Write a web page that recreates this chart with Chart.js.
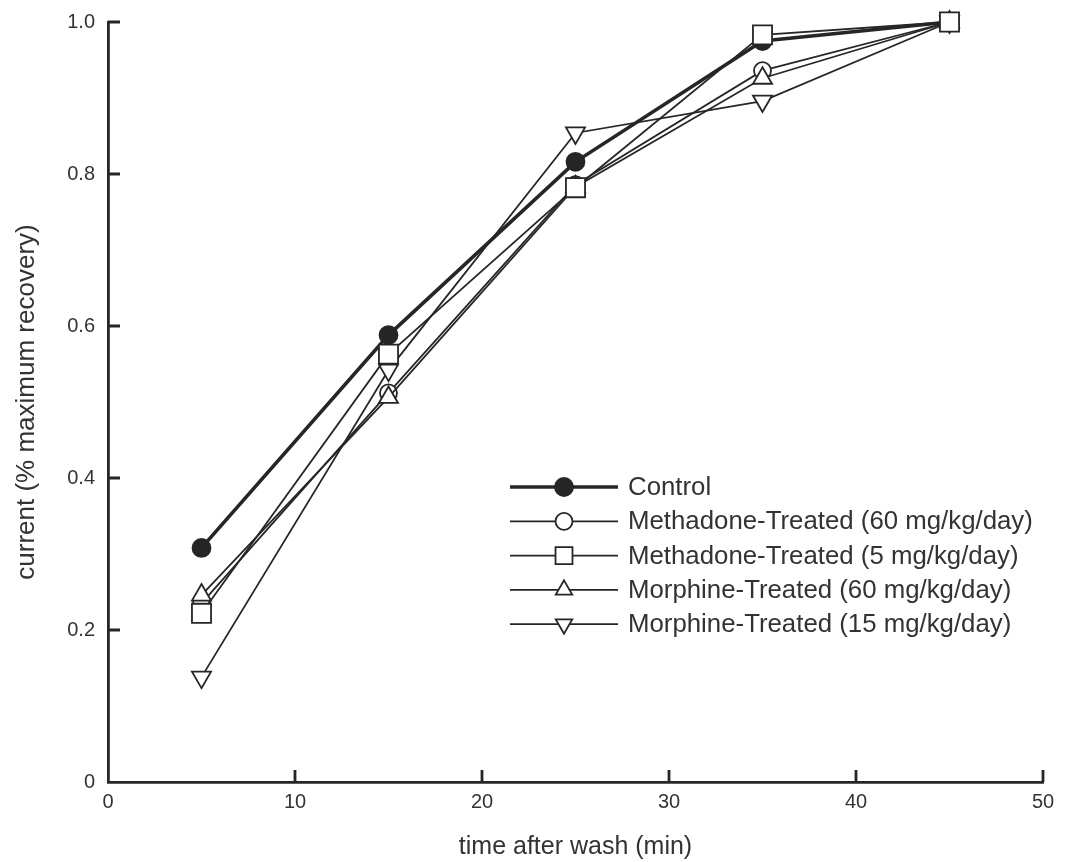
<!DOCTYPE html>
<html>
<head>
<meta charset="utf-8">
<script src="https://cdn.jsdelivr.net/npm/chart.js@4/dist/chart.umd.min.js"></script>
<style>
  html, body { margin: 0; padding: 0; background: #fff; }
  #wrap { width: 1065px; height: 862px; }
</style>
</head>
<body>
<div id="wrap"><canvas id="c" width="1065" height="862"></canvas></div>
<script>
// Time points (min after wash)
const times = [5, 15, 25, 35, 45];

// Fraction of maximum recovered current per group
const control      = [0.308, 0.588, 0.816, 0.975, 1.0];
const methadone60  = [0.235, 0.512, 0.786, 0.936, 1.0];
const methadone5   = [0.222, 0.563, 0.782, 0.983, 1.0];
const morphine60   = [0.246, 0.506, 0.783, 0.926, 1.0];
const morphine15   = [0.138, 0.542, 0.854, 0.896, 1.0];

const seriesLabels = [
  'Control',
  'Methadone-Treated (60 mg/kg/day)',
  'Methadone-Treated (5 mg/kg/day)',
  'Morphine-Treated (60 mg/kg/day)',
  'Morphine-Treated (15 mg/kg/day)'
];

const xTicks = [0, 10, 20, 30, 40, 50];
const yTicks = [0, 0.2, 0.4, 0.6, 0.8, 1.0];

const INK = '#262626';
const TEXT = '#333333';
const FONT = '"Liberation Sans", Arial, Helvetica, sans-serif';

function pts(vals) { return times.map((t, i) => ({ x: t, y: vals[i] })); }

function series(label, vals, style, opts) {
  return Object.assign({
    label: label,
    data: pts(vals),
    borderColor: INK,
    borderWidth: 1.8,
    pointStyle: style,
    pointRadius: 8,
    pointHoverRadius: 8,
    pointBorderWidth: 1.8,
    pointBorderColor: INK,
    pointBackgroundColor: '#ffffff',
    pointRotation: 0,
    clip: false,
    tension: 0
  }, opts || {});
}

const datasets = [
  series(seriesLabels[0], control, 'circle',
         { borderWidth: 3.6, pointBackgroundColor: INK, pointRadius: 9, order: 2 }),
  series(seriesLabels[1], methadone60, 'circle', { pointRadius: 8.5, order: 4 }),
  series(seriesLabels[2], methadone5, 'rect', { pointRadius: 13.5, order: 1 }),
  series(seriesLabels[3], morphine60, 'triangle', { pointRadius: 11, order: 3 }),
  series(seriesLabels[4], morphine15, 'triangle', { pointRadius: 11, pointRotation: 180, order: 5 })
];

// Ticks drawn inward from the axis lines
const innerTicks = {
  id: 'innerTicks',
  afterDatasetsDraw(chart) {
    const ctx = chart.ctx;
    const xs = chart.scales.x, ys = chart.scales.y;
    const len = 12;
    ctx.save();
    ctx.strokeStyle = INK;
    ctx.lineWidth = 2.8;
    ctx.beginPath();
    yTicks.forEach(v => {
      if (v === 0) return;
      const py = ys.getPixelForValue(v);
      ctx.moveTo(xs.left, py);
      ctx.lineTo(xs.left + len, py);
    });
    xTicks.forEach(v => {
      if (v === 0) return;
      const px = xs.getPixelForValue(v);
      ctx.moveTo(px, ys.bottom);
      ctx.lineTo(px, ys.bottom - len);
    });
    ctx.stroke();
    ctx.restore();
  }
};

// Legend block inside the plot, each row a line sample with its marker
const innerLegend = {
  id: 'innerLegend',
  afterDraw(chart) {
    const ctx = chart.ctx;
    const x0 = 510, x1 = 618, xm = 564, tx = 628;
    const y0 = 487, dy = 34.3;
    ctx.save();
    ctx.font = '25.8px ' + FONT;
    ctx.textBaseline = 'middle';
    ctx.textAlign = 'left';
    chart.data.datasets.forEach((ds, i) => {
      const y = y0 + i * dy;
      ctx.strokeStyle = ds.borderColor;
      ctx.lineWidth = ds.borderWidth;
      ctx.beginPath();
      ctx.moveTo(x0, y);
      ctx.lineTo(x1, y);
      ctx.stroke();
      ctx.fillStyle = ds.pointBackgroundColor;
      ctx.strokeStyle = ds.pointBorderColor;
      ctx.lineWidth = ds.pointBorderWidth;
      Chart.helpers.drawPoint(ctx, {
        pointStyle: ds.pointStyle,
        rotation: ds.pointRotation,
        radius: ds.pointStyle === 'rect' ? 12 : Math.min(ds.pointRadius, 9.5),
        borderWidth: ds.pointBorderWidth
      }, xm, y);
      ctx.fillStyle = TEXT;
      ctx.fillText(ds.label, tx, y + 1);
    });
    ctx.restore();
  }
};

new Chart(document.getElementById('c'), {
  type: 'line',
  data: { datasets: datasets },
  options: {
    responsive: false,
    animation: false,
    events: [],
    layout: { padding: { top: 22, right: 22, left: 0, bottom: 0 } },
    plugins: { legend: { display: false }, tooltip: { enabled: false } },
    scales: {
      x: {
        type: 'linear',
        min: 0, max: 50,
        afterFit(s) { s.height = 80; s.paddingLeft = 0; s.paddingRight = 0; },
        afterBuildTicks(s) { s.ticks = xTicks.map(v => ({ value: v })); },
        grid: { display: false, drawTicks: false },
        border: { display: true, color: INK, width: 2.8 },
        ticks: {
          padding: 8,
          color: TEXT,
          font: { family: FONT, size: 20 },
          maxRotation: 0,
          callback: v => String(v)
        },
        title: {
          display: true,
          text: 'time after wash (min)',
          color: TEXT,
          font: { family: FONT, size: 25 },
          padding: { top: 0, bottom: 0 }
        }
      },
      y: {
        type: 'linear',
        min: 0, max: 1.0,
        afterFit(s) { s.width = 108; s.paddingTop = 0; s.paddingBottom = 0; },
        afterBuildTicks(s) { s.ticks = yTicks.map(v => ({ value: v })); },
        grid: { display: false, drawTicks: false },
        border: { display: true, color: INK, width: 2.8 },
        ticks: {
          padding: 13,
          color: TEXT,
          font: { family: FONT, size: 20 },
          callback: v => (v === 0 ? '0' : v.toFixed(1))
        },
        title: {
          display: true,
          text: 'current (% maximum recovery)',
          color: TEXT,
          font: { family: FONT, size: 26 },
          padding: { top: 11, bottom: 0 }
        }
      }
    }
  },
  plugins: [innerTicks, innerLegend]
});
</script>
</body>
</html>
